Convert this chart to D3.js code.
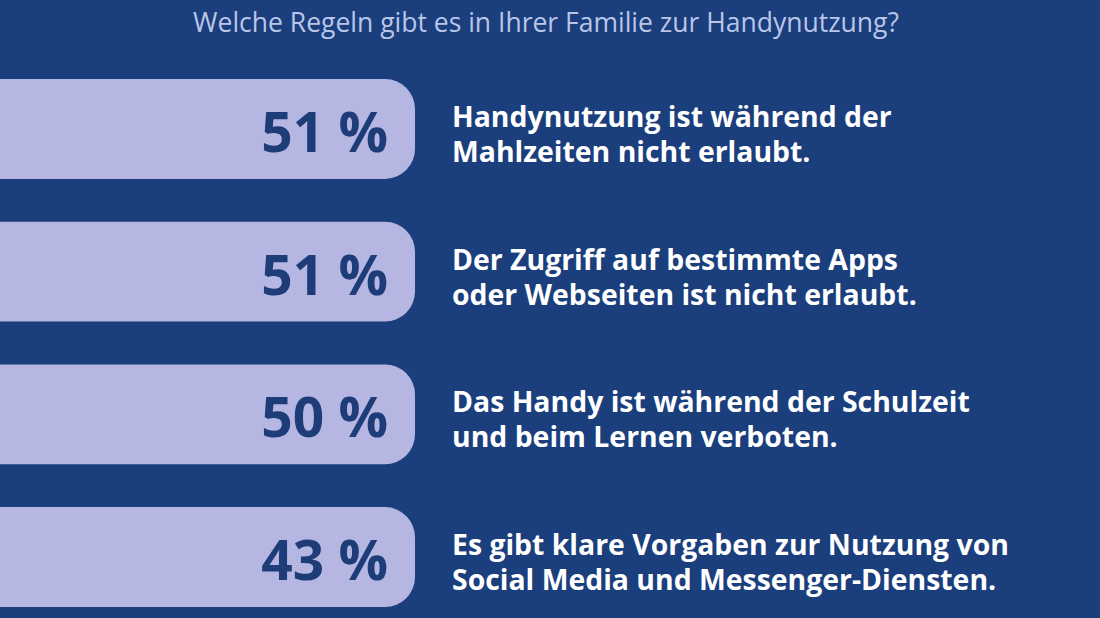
<!DOCTYPE html>
<html>
<head>
<meta charset="utf-8">
<script src="https://cdn.jsdelivr.net/npm/d3@7"></script>
<style>
  html, body { margin: 0; padding: 0; background: #1b3e7d; }
  svg { display: block; }
</style>
</head>
<body>
<script>
const title = "Welche Regeln gibt es in Ihrer Familie zur Handynutzung?";
const shares = [51, 51, 50, 43];
const labels = [
  ["Handynutzung ist während der", "Mahlzeiten nicht erlaubt."],
  ["Der Zugriff auf bestimmte Apps", "oder Webseiten ist nicht erlaubt."],
  ["Das Handy ist während der Schulzeit", "und beim Lernen verboten."],
  ["Es gibt klare Vorgaben zur Nutzung von", "Social Media und Messenger-Diensten."]
];

const width = 1100, height = 618;

const svg = d3.select(document.body)
  .append("svg")
  .attr("width", width)
  .attr("height", height);

svg.append("rect")
  .attr("width", width)
  .attr("height", height)
  .attr("fill", "#1b3e7d");

svg.append("text")
  .attr("x", 546)
  .attr("y", 32)
  .attr("text-anchor", "middle")
  .attr("fill", "#b9c6e8")
  .attr("font-family", "Open Sans")
  .attr("font-size", 26.5)
  .text(title);

const y = d3.scaleBand()
  .domain(d3.range(shares.length))
  .range([79, 607])
  .paddingInner(0.3)
  .paddingOuter(0);

// all bars share one length in the original, only the label carries the value
const barLeft = -40, barRight = 415;

const row = svg.selectAll("g.row")
  .data(shares)
  .join("g")
  .attr("class", "row")
  .attr("transform", (d, i) => `translate(0,${y(i)})`);

row.append("rect")
  .attr("x", barLeft)
  .attr("width", barRight - barLeft)
  .attr("height", y.bandwidth())
  .attr("rx", 30)
  .attr("fill", "#b5b7e2");

row.append("text")
  .attr("x", 388)
  .attr("y", y.bandwidth() / 2 + 23)
  .attr("text-anchor", "end")
  .attr("fill", "#1d3c78")
  .attr("font-family", "Open Sans")
  .attr("font-weight", 700)
  .attr("font-size", 55)
  .text(d => `${d} %`);

row.append("text")
  .attr("x", 452)
  .attr("fill", "#ffffff")
  .attr("font-family", "Open Sans")
  .attr("font-weight", 700)
  .attr("font-size", 28.4)
  .selectAll("tspan")
  .data((d, i) => labels[i])
  .join("tspan")
  .attr("x", 452)
  .attr("y", (d, j) => 48 + j * 35)
  .text(d => d);
</script>
</body>
</html>
